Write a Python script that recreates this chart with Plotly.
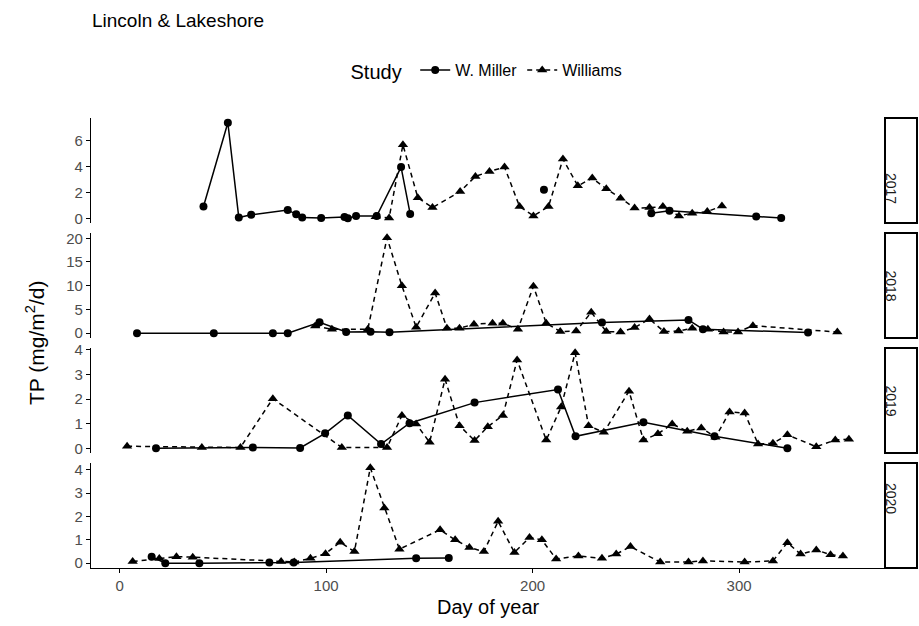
import plotly.graph_objects as go
from plotly.subplots import make_subplots

# ---- data: total phosphorus (mg/m2/d) by day of year, per year and study ----
years = ["2017", "2018", "2019", "2020"]

miller_2017_day = [40.6, 52.4, 57.7, 63.7, 81.4, 85.5, 88.4, 97.6, 108.9, 110.5, 114.5, 124.5,
                   136.3, 140.7, None, 205.5, None, 257.5, 266.3, 308.3, 320.4]
miller_2017_tp = [0.93, 7.4, 0.08, 0.29, 0.67, 0.34, 0.08, 0.05, 0.13, 0.03, 0.2, 0.2,
                  3.98, 0.36, None, 2.22, None, 0.42, 0.6, 0.16, 0.05]
williams_2017_day = [124.0, 130.5, 137.2, 144.4, 151.5, 164.9, 172.3, 179.1, 186.4, 193.7, 200.4,
                     207.7, 214.7, 221.9, 228.9, 235.7, 242.6, 249.4, 256.6, 263.1, 270.9, 277.3,
                     284.6, 291.7]
williams_2017_tp = [0.15, 0.05, 5.7, 1.62, 0.85, 2.09, 3.26, 3.64, 3.98, 0.93, 0.21,
                    0.93, 4.6, 2.53, 3.13, 2.3, 1.58, 0.81, 0.85, 0.93, 0.21, 0.42,
                    0.54, 0.98]

miller_2018_day = [8.4, 45.6, 74.2, 81.4, 96.8, 109.7, 121.5, 130.7, 233.6, 275.5, 282.5, 333.4]
miller_2018_tp = [0.0, 0.0, 0.0, 0.0, 2.3, 0.25, 0.3, 0.2, 2.25, 2.8, 0.85, 0.14]
williams_2018_day = [94.7, 102.8, 120.2, 129.5, 136.7, 143.6, 152.8, 158.5, 164.6, 171.6, 180.6,
                     185.6, 192.9, 200.4, 206.6, 213.4, 221.1, 228.4, 235.7, 242.6, 249.4, 256.6,
                     263.6, 270.7, 277.3, 284.9, 292.5, 299.5, 306.7, 347.6]
williams_2018_tp = [1.5, 0.85, 0.85, 20.1, 10.0, 1.27, 8.47, 1.05, 1.05, 1.9, 2.1,
                    2.1, 0.85, 9.9, 2.1, 0.35, 0.45, 4.4, 0.35, 0.25, 1.2, 3.0,
                    0.35, 0.45, 1.05, 0.85, 0.25, 0.25, 1.6, 0.25]

miller_2019_day = [17.6, 64.5, 87.4, 99.5, 110.5, 126.6, 140.4, 171.9, 212.3, 220.8, 253.7, 288.1, 323.4]
miller_2019_tp = [0.02, 0.05, 0.03, 0.62, 1.34, 0.19, 1.03, 1.86, 2.39, 0.5, 1.07, 0.5, 0.02]
williams_2019_day = [3.6, 39.8, 58.5, 74.2, 107.6, 129.5, 136.7, 143.6, 150.1, 157.6, 164.6, 171.9,
                     178.3, 185.6, 192.5, 206.6, 213.8, 220.6, 227.1, 234.5, 246.7, 253.7, 260.7,
                     267.6, 274.9, 281.7, 288.6, 295.4, 302.7, 309.2, 316.4, 323.4, 337.4, 346.6,
                     353.2]
williams_2019_tp = [0.1, 0.05, 0.05, 2.02, 0.05, 0.05, 1.34, 1.0, 0.26, 2.8, 0.93, 0.33,
                    0.89, 1.34, 3.58, 0.35, 1.68, 3.87, 0.93, 0.66, 2.32, 0.35, 0.6,
                    1.0, 0.7, 0.84, 0.46, 1.48, 1.44, 0.19, 0.22, 0.56, 0.08, 0.35,
                    0.38]

miller_2020_day = [15.5, 22.1, 38.6, 72.5, 84.3, 143.6, 159.4]
miller_2020_tp = [0.28, 0.0, 0.0, 0.03, 0.03, 0.21, 0.22]
williams_2020_day = [6.3, 19.2, 27.5, 35.4, 78.2, 84.6, 92.4, 99.7, 106.8, 113.7, 121.4, 128.2,
                     135.5, 155.2, 162.5, 169.4, 176.4, 183.3, 191.2, 198.5, 204.5, 211.4, 222.2,
                     233.6, 240.5, 247.4, 261.8, 275.5, 282.5, 302.7, 316.4, 323.4, 329.8, 337.4,
                     344.3, 350.3]
williams_2020_tp = [0.07, 0.2, 0.28, 0.26, 0.07, 0.05, 0.21, 0.41, 0.9, 0.5, 4.08, 2.36,
                    0.6, 1.43, 1.0, 0.67, 0.5, 1.79, 0.46, 1.1, 1.0, 0.18, 0.31,
                    0.21, 0.39, 0.71, 0.05, 0.05, 0.1, 0.05, 0.1, 0.88, 0.39, 0.57,
                    0.36, 0.31]

y_dticks = [2, 5, 1, 1]

miller = [(miller_2017_day, miller_2017_tp), (miller_2018_day, miller_2018_tp),
          (miller_2019_day, miller_2019_tp), (miller_2020_day, miller_2020_tp)]
williams = [(williams_2017_day, williams_2017_tp), (williams_2018_day, williams_2018_tp),
            (williams_2019_day, williams_2019_tp), (williams_2020_day, williams_2020_tp)]

# ---- figure ----
FONT = "Liberation Sans, Arial, sans-serif"
W, H = 919, 626
ML, MR, MT, MB = 91, 34, 118, 58
plot_w = W - ML - MR
plot_h = H - MT - MB
gap = 10

fig = make_subplots(rows=4, cols=1, shared_xaxes=True, vertical_spacing=gap / plot_h)


def clean(vals):
    return [v for v in vals if v is not None]


def expanded(lo, hi, frac=0.05):
    pad = (hi - lo) * frac
    return [lo - pad, hi + pad]


all_days = []
for i in range(4):
    md, mt = miller[i]
    wd, wt = williams[i]
    all_days += clean(md) + clean(wd)
    fig.add_trace(go.Scatter(
        x=md, y=mt, mode="lines+markers", name="W. Miller",
        legendgroup="miller", showlegend=(i == 0), connectgaps=False,
        line=dict(color="black", width=1.5),
        marker=dict(symbol="circle", size=8, color="black"),
    ), row=i + 1, col=1)
    fig.add_trace(go.Scatter(
        x=wd, y=wt, mode="lines+markers", name="Williams",
        legendgroup="williams", showlegend=(i == 0),
        line=dict(color="black", width=1.5, dash="5px,4px"),
        marker=dict(symbol="triangle-up", size=9, color="black"),
    ), row=i + 1, col=1)

    vals = clean(mt) + clean(wt)
    fig.update_yaxes(
        range=expanded(min(vals), max(vals)), dtick=y_dticks[i], tick0=0,
        showline=True, linecolor="black", linewidth=1.3,
        ticks="outside", ticklen=4, tickwidth=1.3, tickcolor="black",
        tickfont=dict(family=FONT, size=15, color="#4d4d4d"),
        showgrid=False, zeroline=False, fixedrange=True,
        row=i + 1, col=1)

xr = expanded(min(all_days), max(all_days))
for i in range(4):
    bottom = (i == 3)
    fig.update_xaxes(
        range=xr, showgrid=False, zeroline=False,
        showline=bottom, linecolor="black", linewidth=1.3,
        ticks="outside" if bottom else "", ticklen=4, tickwidth=1.3, tickcolor="black",
        showticklabels=bottom, tickvals=[0, 100, 200, 300],
        tickfont=dict(family=FONT, size=15, color="#4d4d4d"),
        row=i + 1, col=1)

# facet strips on the right of each panel
panel_h = (plot_h - 3 * gap) / 4
sx0 = 1.0
sx1 = 1.0 + 32 / plot_w
for i, yr in enumerate(years):
    top_px = i * (panel_h + gap)
    y1 = 1 - top_px / plot_h
    y0 = 1 - (top_px + panel_h) / plot_h
    fig.add_shape(type="rect", xref="paper", yref="paper",
                  x0=sx0, x1=sx1, y0=y0, y1=y1,
                  line=dict(color="black", width=2), fillcolor="white", layer="above")
    fig.add_annotation(x=(sx0 + sx1) / 2, y=(y0 + y1) / 2, xref="paper", yref="paper",
                       text=yr, showarrow=False, textangle=90,
                       font=dict(family=FONT, size=14, color="#1a1a1a"))

# axis titles
fig.add_annotation(x=-56 / plot_w, y=0.5, xref="paper", yref="paper",
                   text="TP (mg/m<sup>2</sup>/d)", showarrow=False, textangle=-90,
                   xanchor="center", yanchor="middle",
                   font=dict(family=FONT, size=21, color="black"))
fig.add_annotation(x=0.5, y=-39 / plot_h, xref="paper", yref="paper",
                   text="Day of year", showarrow=False,
                   xanchor="center", yanchor="middle",
                   font=dict(family=FONT, size=20, color="black"))

fig.update_layout(
    width=W, height=H,
    margin=dict(l=ML, r=MR, t=MT, b=MB),
    paper_bgcolor="white", plot_bgcolor="white",
    font=dict(family=FONT, color="black"),
    title=dict(text="Lincoln &amp; Lakeshore", x=92 / W, xanchor="left",
               y=1 - 20 / H, yanchor="middle",
               font=dict(family=FONT, size=19, color="black")),
    legend=dict(orientation="h", x=0.5, xanchor="center",
                y=1 + 47 / plot_h, yanchor="middle",
                title=dict(text="Study ", side="left",
                           font=dict(family=FONT, size=20, color="black")),
                font=dict(family=FONT, size=16, color="black"),
                itemwidth=30, tracegroupgap=0, bgcolor="rgba(0,0,0,0)"),
)

fig.write_html("out.html")
